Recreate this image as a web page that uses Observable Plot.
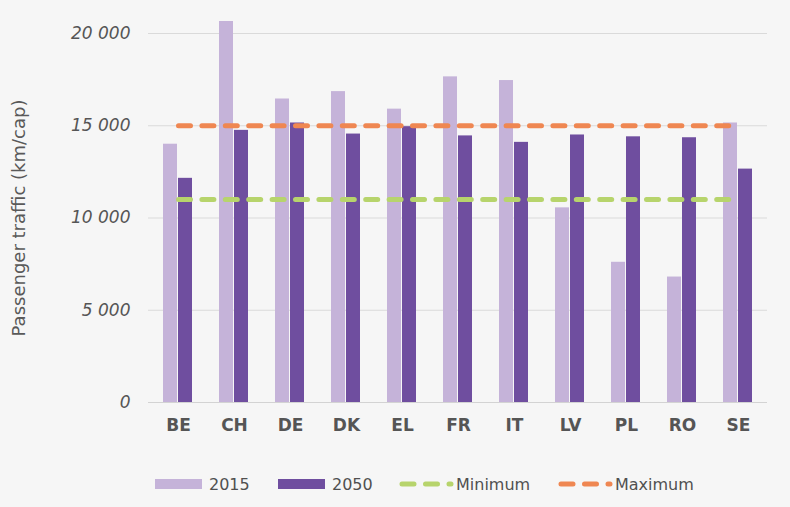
<!DOCTYPE html>
<html>
<head>
<meta charset="utf-8">
<script src="https://cdn.jsdelivr.net/npm/d3@7"></script>
<script src="https://cdn.jsdelivr.net/npm/@observablehq/plot@0.6"></script>
<style>
  html, body { margin: 0; padding: 0; background: #f6f6f6; }
  #wrap { position: relative; width: 790px; height: 507px; font-family: "DejaVu Sans", Verdana, sans-serif; }
  #legend { position: absolute; left: 0; top: 455px; width: 790px; height: 52px; }
  .item { position: absolute; top: 18px; display: flex; align-items: center; height: 22px; font-size: 16px; color: #505050; }
  .sw { display: inline-block; width: 47px; height: 10px; margin-right: 7px; }
</style>
</head>
<body>
<div id="wrap">
  <div id="chart"></div>
  <div id="legend"></div>
</div>
<script>
const countries = ["BE", "CH", "DE", "DK", "EL", "FR", "IT", "LV", "PL", "RO", "SE"];
const values2015 = [14000, 20650, 16450, 16850, 15900, 17650, 17450, 10550, 7600, 6800, 15150];
const values2050 = [12150, 14750, 15150, 14550, 14950, 14450, 14100, 14500, 14400, 14350, 12650];
const seriesNames = ["2015", "2050"];
const thresholdNames = ["Minimum", "Maximum"];
const thresholdValues = [11000, 15000];
const yTicks = [0, 5000, 10000, 15000, 20000];

const colors = { "2015": "#c5b3d9", "2050": "#6f4e9f", "Minimum": "#b7d46c", "Maximum": "#ef8752" };

const rows2015 = countries.map((c, i) => ({ country: c, value: values2015[i] }));
const rows2050 = countries.map((c, i) => ({ country: c, value: values2050[i] }));
const minRows = countries.map(c => ({ country: c, value: thresholdValues[0] }));
const maxRows = countries.map(c => ({ country: c, value: thresholdValues[1] }));

const fmt = d => d3.format(",")(d).replace(/,/g, " ");

const dash = "12,11.4";

const chart = Plot.plot({
  width: 790,
  height: 455,
  marginLeft: 148,
  marginRight: 23,
  marginTop: 33,
  marginBottom: 53,
  style: { background: "#f6f6f6", fontFamily: "'DejaVu Sans', Verdana, sans-serif", overflow: "visible" },
  x: { type: "band", domain: countries, padding: 0 },
  y: { domain: [0, 20000] },
  marks: [
    Plot.gridY(yTicks, { stroke: "#dadada", strokeOpacity: 1 }),
    Plot.ruleY([0], { stroke: "#d3d3d3" }),
    Plot.barY(rows2015, { x: "country", y: "value", fill: colors["2015"], insetLeft: 13, insetRight: 29 }),
    Plot.barY(rows2050, { x: "country", y: "value", fill: colors["2050"], insetLeft: 28, insetRight: 14 }),
    Plot.lineY(minRows, { x: "country", y: "value", stroke: colors["Minimum"], strokeWidth: 5, strokeDasharray: dash, strokeLinecap: "round" }),
    Plot.lineY(maxRows, { x: "country", y: "value", stroke: colors["Maximum"], strokeWidth: 5, strokeDasharray: dash, strokeLinecap: "round" }),
    Plot.axisY(yTicks, { tickSize: 0, tickPadding: 18, fontSize: 17, fontStyle: "italic", fill: "#555", tickFormat: fmt, label: null }),
    Plot.axisX({ tickSize: 0, tickPadding: 16, fontSize: 17, fontWeight: "bold", fill: "#555", label: null }),
    Plot.text(["Passenger traffic (km/cap)"], { frameAnchor: "left", textAnchor: "middle", rotate: -90, dx: -129, fontSize: 18, fill: "#595959" })
  ]
});
document.getElementById("chart").appendChild(chart);

// Legend
const legend = document.getElementById("legend");
const lefts = [155, 278, 399, 558];
const names = [...seriesNames, ...thresholdNames];
names.forEach((name, i) => {
  const item = document.createElement("div");
  item.className = "item";
  item.style.left = lefts[i] + "px";
  if (i < 2) {
    const sw = document.createElement("span");
    sw.className = "sw";
    sw.style.background = colors[name];
    item.appendChild(sw);
  } else {
    const ns = "http://www.w3.org/2000/svg";
    const svg = document.createElementNS(ns, "svg");
    svg.setAttribute("width", 56);
    svg.setAttribute("height", 10);
    svg.style.marginRight = "1px";
    const ln = document.createElementNS(ns, "line");
    ln.setAttribute("x1", 3); ln.setAttribute("x2", 52);
    ln.setAttribute("y1", 5); ln.setAttribute("y2", 5);
    ln.setAttribute("stroke", colors[name]);
    ln.setAttribute("stroke-width", 5);
    ln.setAttribute("stroke-linecap", "round");
    ln.setAttribute("stroke-dasharray", "12,11.5");
    svg.appendChild(ln);
    item.appendChild(svg);
  }
  const t = document.createElement("span");
  t.textContent = name;
  item.appendChild(t);
  legend.appendChild(item);
});
</script>
</body>
</html>
